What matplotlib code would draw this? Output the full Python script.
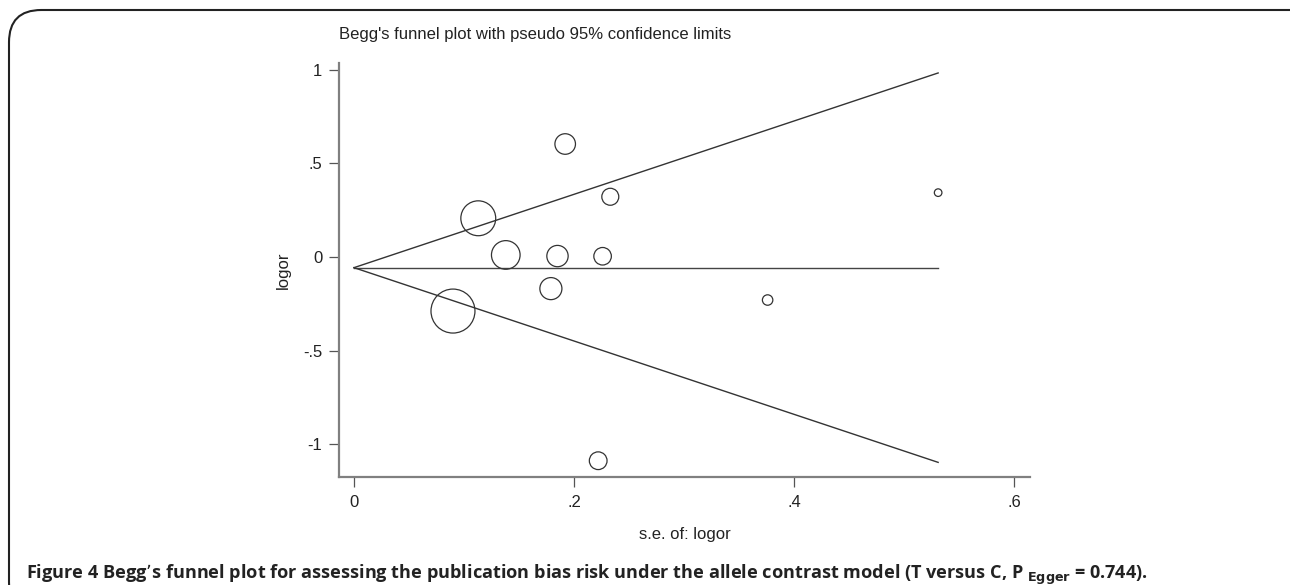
import matplotlib.pyplot as plt
from matplotlib.patches import FancyBboxPatch

# study-level data
se = [0.090, 0.113, 0.138, 0.179, 0.185, 0.192, 0.222, 0.226, 0.233, 0.376, 0.531]
logor = [-0.289, 0.207, 0.011, -0.169, 0.005, 0.604, -1.089, 0.004, 0.322, -0.230, 0.344]
weight = [30.2, 19.0, 12.8, 7.6, 7.1, 6.6, 4.9, 4.8, 4.5, 1.7, 0.9]  # relative marker area
pooled = -0.057

xticks = [0, 0.2, 0.4, 0.6]
xticklabels = ["0", ".2", ".4", ".6"]
yticks = [-1, -0.5, 0, 0.5, 1]
yticklabels = ["-1", "-.5", "0", ".5", "1"]

plt.rcParams['font.family'] = ['Liberation Sans', 'DejaVu Sans']

fig = plt.figure(figsize=(12.9, 5.85), dpi=100)
W, H = 1290, 585

# rounded frame around the figure (runs off right and bottom edges)
frame = FancyBboxPatch((9 / W, -0.05), 1.1, 1 - 10 / H + 0.05,
                       boxstyle="round,pad=0,rounding_size=0.025",
                       transform=fig.transFigure, fill=False,
                       edgecolor="#222222", linewidth=1.5, mutation_aspect=W / H)
fig.patches.append(frame)

ax = fig.add_axes([339 / W, 108 / H, (1030 - 339) / W, (477 - 63) / H])

se_max = max(se)
ax.plot([0, se_max], [pooled, pooled], color="#444444", lw=1.0)
ax.plot([0, se_max], [pooled, pooled + 1.96 * se_max], color="#333333", lw=1.0)
ax.plot([0, se_max], [pooled, pooled - 1.96 * se_max], color="#333333", lw=1.0)

sizes = [33.2 * w for w in weight]
ax.scatter(se, logor, s=sizes, facecolors="none", edgecolors="#333333",
           linewidths=0.9, zorder=3)

ax.set_xlim(-0.0136, 0.6145)
ax.set_ylim(-1.176, 1.037)

for side in ["top", "right"]:
    ax.spines[side].set_visible(False)
for side in ["left", "bottom"]:
    ax.spines[side].set_color("#808080")
    ax.spines[side].set_linewidth(1.6)

ax.set_xticks(xticks)
ax.set_xticklabels(xticklabels)
ax.set_yticks(yticks)
ax.set_yticklabels(yticklabels, rotation=0)
ax.tick_params(axis="both", length=7, width=0.9, color="#555555",
               labelsize=12, labelcolor="#222222")
ax.tick_params(axis="x", pad=6)
ax.tick_params(axis="y", pad=5)

ax.set_xlabel("s.e. of: logor", fontsize=12, color="#222222", labelpad=12)
ax.set_ylabel("logor", fontsize=12, color="#222222", labelpad=9)

fig.text(339 / W, 1 - 35 / H, "Begg's funnel plot with pseudo 95% confidence limits",
         fontsize=12, color="#222222", ha="left", va="center")

fig.text(26 / W, 1 - 575 / H,
         r"Figure 4 Begg’s funnel plot for assessing the publication bias risk under the allele "
         r"contrast model (T versus C, P $_{\mathbf{Egger}}$ = 0.744).",
         fontsize=13.1, fontweight="bold", family=["Open Sans", "DejaVu Sans"],
         color="#222222", ha="left", va="center")

fig.savefig("out.png", dpi=100)
